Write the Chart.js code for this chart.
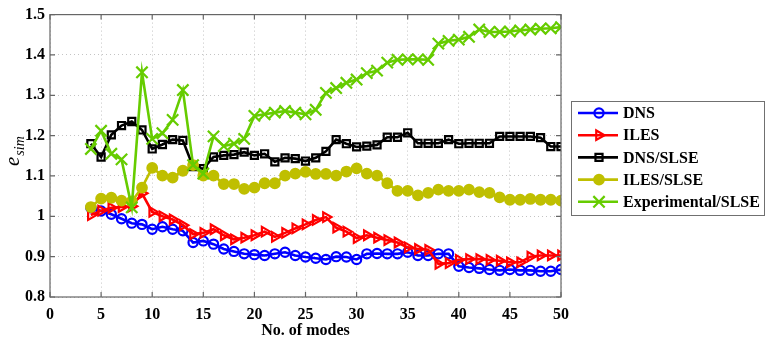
<!DOCTYPE html>
<html>
<head>
<meta charset="utf-8">
<script src="https://cdn.jsdelivr.net/npm/chart.js@4.4.1/dist/chart.umd.min.js"></script>
<style>
  html, body { margin: 0; padding: 0; background: #fff; }
  #wrap { position: relative; width: 765px; height: 342px; }
</style>
</head>
<body>
<div id="wrap"><canvas id="esimChart" width="765" height="342"></canvas></div>
<script>
const modes = [4, 5, 6, 7, 8, 9, 10, 11, 12, 13, 14, 15, 16, 17, 18, 19, 20, 21, 22, 23, 24, 25, 26, 27,
               28, 29, 30, 31, 32, 33, 34, 35, 36, 37, 38, 39, 40, 41, 42, 43, 44, 45, 46, 47, 48, 49, 50];

const dns = [1.021, 1.013, 1.005, 0.994, 0.983, 0.980, 0.968, 0.974, 0.968, 0.964,
             0.935, 0.939, 0.931, 0.919, 0.913, 0.907, 0.905, 0.903, 0.907, 0.911,
             0.903, 0.899, 0.896, 0.893, 0.900, 0.899, 0.893, 0.907, 0.908, 0.907,
             0.907, 0.911, 0.903, 0.903, 0.907, 0.907, 0.876, 0.873, 0.871, 0.868,
             0.866, 0.868, 0.866, 0.866, 0.864, 0.864, 0.868];

const iles = [1.003, 1.014, 1.021, 1.023, 1.025, 1.057, 1.011, 1.000, 0.992, 0.978,
              0.956, 0.959, 0.968, 0.953, 0.943, 0.947, 0.953, 0.962, 0.949, 0.959,
              0.970, 0.980, 0.991, 0.998, 0.972, 0.962, 0.946, 0.953, 0.947, 0.941,
              0.935, 0.923, 0.919, 0.917, 0.882, 0.884, 0.892, 0.894, 0.894, 0.892,
              0.890, 0.886, 0.886, 0.900, 0.903, 0.903, 0.903];

const dnsSlse = [1.180, 1.147, 1.202, 1.225, 1.235, 1.214, 1.167, 1.178, 1.190, 1.188,
                 1.123, 1.118, 1.147, 1.151, 1.153, 1.159, 1.151, 1.155, 1.135, 1.145,
                 1.143, 1.137, 1.145, 1.161, 1.190, 1.180, 1.172, 1.174, 1.177, 1.196,
                 1.196, 1.207, 1.181, 1.181, 1.181, 1.190, 1.180, 1.181, 1.181, 1.181,
                 1.198, 1.198, 1.198, 1.198, 1.195, 1.173, 1.173];

const ilesSlse = [1.023, 1.044, 1.046, 1.039, 1.037, 1.071, 1.120, 1.101, 1.096, 1.113,
                  1.127, 1.101, 1.101, 1.080, 1.080, 1.068, 1.071, 1.082, 1.082, 1.101,
                  1.106, 1.110, 1.105, 1.105, 1.101, 1.111, 1.119, 1.106, 1.101, 1.082,
                  1.063, 1.063, 1.052, 1.058, 1.066, 1.063, 1.063, 1.066, 1.060, 1.058,
                  1.047, 1.041, 1.041, 1.043, 1.041, 1.041, 1.039];

const expSlse = [1.167, 1.212, 1.155, 1.141, 1.022, 1.357, 1.192, 1.206, 1.239, 1.313,
                 1.127, 1.106, 1.198, 1.174, 1.180, 1.192, 1.249, 1.253, 1.257, 1.261,
                 1.257, 1.253, 1.264, 1.306, 1.318, 1.331, 1.339, 1.355, 1.361, 1.381,
                 1.388, 1.389, 1.389, 1.388, 1.428, 1.435, 1.438, 1.445, 1.463, 1.457,
                 1.457, 1.458, 1.461, 1.463, 1.465, 1.466, 1.469];

const seriesNames = ['DNS', 'ILES', 'DNS/SLSE', 'ILES/SLSE', 'Experimental/SLSE'];
const xTicks = [0, 5, 10, 15, 20, 25, 30, 35, 40, 45, 50];
const yTicks = [0.8, 0.9, 1, 1.1, 1.2, 1.3, 1.4, 1.5];

const FONT = "'Liberation Serif', 'Times New Roman', serif";

function toPoints(values) {
    return modes.map((m, i) => ({ x: m, y: values[i] }));
}

// marker / line look of each series
const styles = [
    { color: '#0000ff', pointStyle: 'circle',   radius: 4.6, fill: 'rgba(0,0,0,0)', rotation: 0 },
    { color: '#ff0000', pointStyle: 'triangle', radius: 5.5, fill: 'rgba(0,0,0,0)', rotation: 90 },
    { color: '#000000', pointStyle: 'rect',     radius: 5,   fill: 'rgba(0,0,0,0)', rotation: 0 },
    { color: '#bfbf00', pointStyle: 'circle',   radius: 4.8, fill: '#bfbf00',       rotation: 0 },
    { color: '#66cc00', pointStyle: 'crossRot', radius: 8,   fill: '#66cc00',       rotation: 0 }
];

const seriesValues = [dns, iles, dnsSlse, ilesSlse, expSlse];

const datasets = seriesValues.map((vals, i) => ({
    label: seriesNames[i],
    data: toPoints(vals),
    borderColor: styles[i].color,
    backgroundColor: styles[i].fill,
    borderWidth: 2.6,
    pointStyle: styles[i].pointStyle,
    pointRadius: styles[i].radius,
    pointRotation: styles[i].rotation,
    pointBorderColor: styles[i].color,
    pointBackgroundColor: styles[i].fill,
    pointBorderWidth: 2.2,
    tension: 0,
    // later series sit on top
    order: seriesNames.length - i
}));

// box frame, inward ticks, axis titles and the legend box
const matlabFrame = {
    id: 'matlabFrame',
    afterDraw(chart) {
        const ctx = chart.ctx;
        const a = chart.chartArea;
        const xs = chart.scales.x, ys = chart.scales.y;
        ctx.save();
        ctx.strokeStyle = '#666666';
        ctx.lineWidth = 1.2;
        ctx.strokeRect(a.left, a.top, a.right - a.left, a.bottom - a.top);
        ctx.beginPath();
        xTicks.forEach(t => {
            const px = xs.getPixelForValue(t);
            ctx.moveTo(px, a.bottom); ctx.lineTo(px, a.bottom - 5);
            ctx.moveTo(px, a.top); ctx.lineTo(px, a.top + 5);
        });
        yTicks.forEach(t => {
            const py = ys.getPixelForValue(t);
            ctx.moveTo(a.left, py); ctx.lineTo(a.left + 5, py);
            ctx.moveTo(a.right, py); ctx.lineTo(a.right - 5, py);
        });
        ctx.stroke();

        // x title
        ctx.fillStyle = '#000';
        ctx.font = 'bold 16px ' + FONT;
        ctx.textAlign = 'center';
        ctx.textBaseline = 'middle';
        ctx.fillText('No. of modes', (a.left + a.right) / 2, 331);

        // y title: e with subscript sim
        ctx.save();
        ctx.translate(19, 166);
        ctx.rotate(-Math.PI / 2);
        ctx.textAlign = 'left';
        ctx.textBaseline = 'alphabetic';
        ctx.font = 'italic 21px ' + FONT;
        ctx.fillText('e', 0, 0);
        const ew = ctx.measureText('e').width;
        ctx.font = 'italic 14px ' + FONT;
        ctx.fillText('sim', ew + 1, 5);
        ctx.restore();

        // legend
        const lx = 571, ly = 101, lw = 193, lh = 114;
        ctx.fillStyle = '#fff';
        ctx.fillRect(lx, ly, lw, lh);
        ctx.strokeStyle = '#707070';
        ctx.lineWidth = 1;
        ctx.strokeRect(lx + 0.5, ly + 0.5, lw, lh);
        seriesNames.forEach((name, i) => {
            const y = ly + 12 + i * 22.2;
            const st = styles[i];
            ctx.strokeStyle = st.color;
            ctx.lineWidth = 2.6;
            ctx.beginPath();
            ctx.moveTo(578, y); ctx.lineTo(618, y);
            ctx.stroke();
            ctx.lineWidth = 2.2;
            ctx.fillStyle = st.fill;
            Chart.helpers.drawPoint(ctx, {
                pointStyle: st.pointStyle,
                rotation: st.rotation,
                radius: st.radius,
                borderWidth: 2.2
            }, 599, y);
            ctx.fillStyle = '#000';
            ctx.font = 'bold 16px ' + FONT;
            ctx.textAlign = 'left';
            ctx.textBaseline = 'middle';
            ctx.fillText(name, 623, y + 1);
        });
        ctx.restore();
    }
};

// dotted light grid
const gridLook = { color: '#c4c4c4', lineWidth: 1, drawTicks: false };

new Chart(document.getElementById('esimChart'), {
    type: 'line',
    data: { datasets: datasets },
    options: {
        responsive: false,
        animation: false,
        layout: { padding: { left: 0, top: 10, right: 204, bottom: 0 } },
        plugins: {
            legend: { display: false },
            tooltip: { enabled: false }
        },
        scales: {
            x: {
                type: 'linear',
                min: 0,
                max: 50,
                afterBuildTicks: s => { s.ticks = xTicks.map(v => ({ value: v })); },
                afterFit: s => { s.height = 45; },
                grid: gridLook,
                border: { display: false, dash: [1, 3] },
                ticks: {
                    color: '#000',
                    padding: 8,
                    maxRotation: 0,
                    font: { family: FONT, size: 16, weight: 'bold' }
                }
            },
            y: {
                min: 0.8,
                max: 1.5,
                afterBuildTicks: s => { s.ticks = yTicks.map(v => ({ value: v })); },
                afterFit: s => { s.width = 50; },
                grid: gridLook,
                border: { display: false, dash: [1, 3] },
                ticks: {
                    color: '#000',
                    padding: 5,
                    font: { family: FONT, size: 16, weight: 'bold' },
                    callback: v => String(Math.round(v * 10) / 10)
                }
            }
        }
    },
    plugins: [matlabFrame]
});
</script>
</body>
</html>
